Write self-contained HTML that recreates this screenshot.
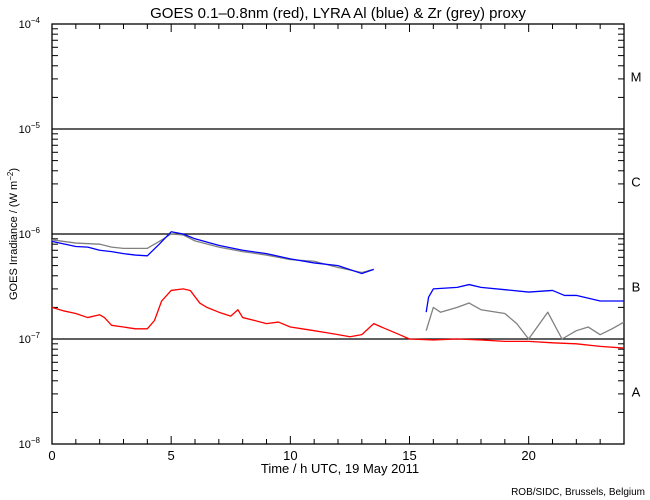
<!DOCTYPE html>
<html><head><meta charset="utf-8"><style>
body{margin:0;background:#fff;}
svg{display:block;font-family:"Liberation Sans","DejaVu Sans",sans-serif;}
</style></head><body>
<svg id="c" width="650" height="500" viewBox="0 0 650 500">
<rect width="650" height="500" fill="#fff"/>
<text x="338" y="18" font-size="15" text-anchor="middle">GOES 0.1–0.8nm (red), LYRA Al (blue) &amp; Zr (grey) proxy</text>
<text transform="translate(17,234) rotate(-90)" font-size="11" text-anchor="middle">GOES Irradiance / (W m<tspan dy="-4" font-size="8">−2</tspan><tspan dy="4">)</tspan></text>
<text x="340" y="473" font-size="13" text-anchor="middle">Time / h UTC, 19 May 2011</text>
<text x="645" y="495" font-size="10" text-anchor="end">ROB/SIDC, Brussels, Belgium</text>
<g id="axes"></g>
<g id="series"></g>
</svg>
<script>
const xTicks=[0,5,10,15,20];
const yDecades=[-8,-7,-6,-5,-4];
const classLabels=["A","B","C","M"];
const classDecades=[-8,-7,-6,-5];
const tRed=[0,0.5,1,1.5,2,2.2,2.5,3,3.5,4,4.3,4.6,5,5.5,5.8,6.2,6.5,7,7.5,7.8,8,8.5,9,9.5,10,10.5,11,11.5,12,12.5,13,13.5,14,14.5,15,16,17,18,19,20,21,22,23,24];
const vRed=[2.0e-7,1.85e-7,1.75e-7,1.6e-7,1.7e-7,1.6e-7,1.35e-7,1.3e-7,1.25e-7,1.25e-7,1.5e-7,2.3e-7,2.9e-7,3.0e-7,2.9e-7,2.2e-7,2.0e-7,1.8e-7,1.65e-7,1.9e-7,1.6e-7,1.5e-7,1.4e-7,1.45e-7,1.3e-7,1.25e-7,1.2e-7,1.15e-7,1.1e-7,1.05e-7,1.1e-7,1.4e-7,1.25e-7,1.12e-7,1.0e-7,9.8e-8,1.0e-7,9.8e-8,9.5e-8,9.5e-8,9.2e-8,9.0e-8,8.5e-8,8.2e-8];
const tBlueA=[0,1,1.5,2,2.5,3,3.5,4,4.5,5,5.5,6,7,8,9,10,11,12,13,13.5];
const vBlueA=[8.5e-7,7.6e-7,7.5e-7,7.0e-7,6.8e-7,6.5e-7,6.3e-7,6.2e-7,8.0e-7,1.05e-6,1.0e-6,9.0e-7,7.8e-7,7.0e-7,6.5e-7,5.8e-7,5.3e-7,5.0e-7,4.2e-7,4.6e-7];
const tBlueB=[15.7,15.8,16,17,17.5,18,19,20,21,21.5,22,23,24];
const vBlueB=[1.8e-7,2.5e-7,3.0e-7,3.1e-7,3.3e-7,3.1e-7,2.95e-7,2.8e-7,2.9e-7,2.6e-7,2.6e-7,2.3e-7,2.3e-7];
const tGreyA=[0,1,2,2.5,3,4,4.5,5,5.5,6,7,8,9,10,11,12,13,13.5];
const vGreyA=[8.8e-7,8.2e-7,8.0e-7,7.5e-7,7.3e-7,7.3e-7,8.5e-7,1.0e-6,9.8e-7,8.6e-7,7.5e-7,6.8e-7,6.3e-7,5.7e-7,5.5e-7,4.8e-7,4.3e-7,4.6e-7];
const tGreyB=[15.7,16,16.3,17,17.5,18,19,19.5,20,20.8,21.4,22,22.5,23,23.5,24];
const vGreyB=[1.2e-7,2.0e-7,1.8e-7,2.0e-7,2.2e-7,1.9e-7,1.75e-7,1.4e-7,1.0e-7,1.8e-7,1.0e-7,1.2e-7,1.3e-7,1.1e-7,1.25e-7,1.45e-7];

const X0=52,X1=624,Y0=24,Y1=444;
const xs=t=>X0+t/24*(X1-X0);
const ys=v=>Y0+(-4-Math.log10(v))*(Y1-Y0)/4;
const NS="http://www.w3.org/2000/svg";
const ax=document.getElementById('axes'),sg=document.getElementById('series');
function mk(tag,at,p){const e=document.createElementNS(NS,tag);for(const k in at)e.setAttribute(k,at[k]);p.appendChild(e);return e;}

const fr=mk('rect',{x:X0,y:Y0,width:X1-X0,height:Y1-Y0,fill:'none',stroke:'#000','stroke-width':1.3},ax);


for(let h=0;h<=24;h++){
  const L=h%5===0?8:5,x=xs(h);
  const t1=mk('line',{x1:x,x2:x,y1:Y1,y2:Y1-L,stroke:'#000'},ax);
  
  
  const t2=mk('line',{x1:x,x2:x,y1:Y0,y2:Y0+L,stroke:'#000'},ax);
  
  
}
xTicks.forEach(h=>{
  const t=mk('text',{x:xs(h),y:Y1+16,'font-size':13,'text-anchor':'middle'},ax);t.textContent=h;
  
  
});
yDecades.forEach(d=>{
  const y=ys(Math.pow(10,d));
  if(d>-8&&d<-4){const g=mk('line',{x1:X0,x2:X1,y1:y,y2:y,stroke:'#000','stroke-width':1.3},ax);
    
    }
  const t=mk('text',{x:40,y:y+4,'font-size':11,'text-anchor':'end'},ax);
  t.textContent='10';
  const s=mk('tspan',{dy:-5,'font-size':8},t);s.textContent='−'+(-d);
  
  
  if(d<-4)for(let m=2;m<=9;m++){
    const yy=ys(m*Math.pow(10,d));
    const a=mk('line',{x1:X0,x2:X0+6,y1:yy,y2:yy,stroke:'#000'},ax);
    
    
    const b=mk('line',{x1:X1,x2:X1-6,y1:yy,y2:yy,stroke:'#000'},ax);
    
    
  }
});
classLabels.forEach((c,i)=>{
  const y=ys(Math.pow(10,classDecades[i]+0.5));
  const t=mk('text',{x:636,y:y+5,'font-size':13,'text-anchor':'middle'},ax);t.textContent=c;
  
  
});
function line(ts,vs,col,name){
  const p=mk('polyline',{points:ts.map((t,i)=>xs(t)+','+ys(vs[i])).join(' '),fill:'none',stroke:col,'stroke-width':1.3,'stroke-linejoin':'round'},sg);
  
  
}
line(tGreyA,vGreyA,'#808080','zr-proxy-line');
line(tGreyB,vGreyB,'#808080','zr-proxy-line-late');
line(tBlueA,vBlueA,'#0000ff','al-proxy-line');
line(tBlueB,vBlueB,'#0000ff','al-proxy-line-late');
line(tRed,vRed,'#ff0000','goes-line');
</script>
</body></html>
